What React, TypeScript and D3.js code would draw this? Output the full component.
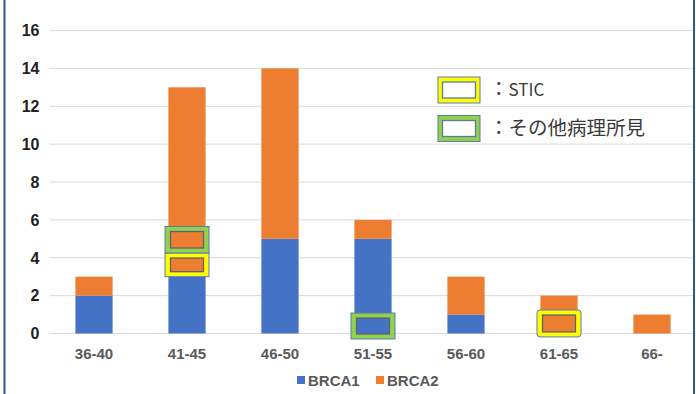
import React from 'react';
import * as d3 from 'd3';

// Data

const categories = ['36-40', '41-45', '46-50', '51-55', '56-60', '61-65', '66-'];
const brca1 = [2, 3, 5, 5, 1, 0, 0];
const brca2 = [1, 10, 9, 1, 2, 2, 1];
const yTicks = [0, 2, 4, 6, 8, 10, 12, 14, 16];
const seriesNames = ['BRCA1', 'BRCA2'];

// hand drawn highlight frames (value units)
type Mark = { cat: string; lo: number; hi: number; kind: 'STIC' | 'other'; series: number };
const marks: Mark[] = [
    { cat: '41-45', lo: 3.0, hi: 4.25, kind: 'STIC', series: 1 },
    { cat: '41-45', lo: 4.25, hi: 5.65, kind: 'other', series: 1 },
    { cat: '51-55', lo: -0.29, hi: 1.08, kind: 'other', series: 0 },
    { cat: '61-65', lo: -0.18, hi: 1.24, kind: 'STIC', series: 1 },
];
const markLegend = [
    { kind: 'STIC', label: 'STIC', size: 17 },
    { kind: 'other', label: 'その他病理所見', size: 19.5 },
];

const W = 696;
const H = 394;
const colors = ['#4472C4', '#ED7D31'];
const frameColor: Record<string, string> = { STIC: '#FFFF00', other: '#92D050' };

function App() {
    const x = d3.scaleBand<string>().domain(categories).range([47.5, 698.5]).paddingInner(0.6).paddingOuter(0.3);
    const y = d3.scaleLinear().domain([0, 16]).range([333.5, 30.5]);

    const table = categories.map((c, i) => ({ cat: c, BRCA1: brca1[i], BRCA2: brca2[i] }));
    const stacked = d3.stack<any>().keys(seriesNames)(table);

    const frameW = 44;

    return (
        <svg width={W} height={H} style={{ position: 'absolute', left: 0, top: 0, background: '#fff' }}
            fontFamily="'Liberation Sans', Arial, sans-serif">
            <rect x={0} y={0} width={W} height={H} fill="#fff" />

            {/* grid */}
            <g>
                {yTicks.map((t) => (
                    <line key={t} x1={49.5} x2={693} y1={y(t)} y2={y(t)} stroke="#d9d9d9" strokeWidth={1} />
                ))}
            </g>

            {/* y labels */}
            <g fontSize={16} fontWeight="bold" fill="#222" textAnchor="end">
                {yTicks.map((t) => (
                    <text key={t} x={39.5} y={y(t)} dy="0.36em">{t}</text>
                ))}
            </g>

            {/* bars */}
            {stacked.map((s, si) => (
                <g key={s.key} fill={colors[si]}>
                    {s.map((d, i) => d[1] - d[0] > 0 && (
                        <rect key={i} x={x(categories[i])} width={x.bandwidth()}
                            y={y(d[1])} height={y(d[0]) - y(d[1])} />
                    ))}
                </g>
            ))}

            {/* highlight frames */}
            {marks.map((m, i) => {
                const cx = (x(m.cat) as number) + x.bandwidth() / 2;
                const top = y(m.hi);
                const bot = y(m.lo);
                return (
                    <g key={i}>
                        <rect x={cx - frameW / 2} y={top} width={frameW} height={bot - top}
                            fill={frameColor[m.kind]} stroke="#5b7ca8" strokeWidth={1}
                            rx={m.cat === '61-65' ? 3 : 0} />
                        <rect x={cx - frameW / 2 + 5.5} y={top + 5} width={frameW - 11} height={bot - top - 10}
                            fill={colors[m.series]} stroke="#5f6468" strokeWidth={1.3} />
                    </g>
                );
            })}

            {/* x labels */}
            <g fontSize={15} fontWeight="bold" fill="#595959" textAnchor="middle">
                {categories.map((c) => (
                    <text key={c} x={(x(c) as number) + x.bandwidth() / 2} y={359}>{c}</text>
                ))}
            </g>

            {/* frame legend */}
            {markLegend.map((l, i) => {
                const top = 77 + i * 38.5;
                return (
                    <g key={l.kind}>
                        <rect x={438} y={top} width={42} height={26} fill={frameColor[l.kind]}
                            stroke="#5b7ca8" strokeWidth={1} />
                        <rect x={442.5} y={top + 5} width={33} height={16} fill="#fff"
                            stroke="#5f7a99" strokeWidth={1.3} />
                        <text x={489} y={top + 13.5} dy="0.36em" fill="#3a3a3a"
                            fontFamily="'Noto Sans CJK JP', sans-serif">
                            <tspan fontSize={19.5}>：</tspan>
                            <tspan fontSize={l.size}>{l.label}</tspan>
                        </text>
                    </g>
                );
            })}

            {/* series legend */}
            <g fontSize={15} fontWeight="bold" fill="#595959">
                {seriesNames.map((n, i) => (
                    <g key={n} transform={`translate(${297 + i * 79},0)`}>
                        <rect x={0} y={376} width={8} height={8} fill={colors[i]} />
                        <text x={11} y={385.5}>{n}</text>
                    </g>
                ))}
            </g>

            {/* side borders */}
            <line x1={4.5} x2={4.5} y1={0} y2={H} stroke="#2f5597" strokeWidth={2} />
            <line x1={694} x2={694} y1={0} y2={H} stroke="#2f5597" strokeWidth={2} />
        </svg>
    );
}

export default App;
